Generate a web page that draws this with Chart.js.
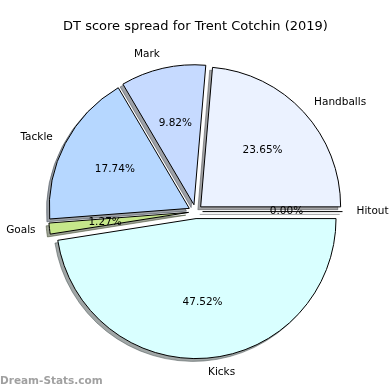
<!DOCTYPE html>
<html lang="en">
<head>
    <meta charset="UTF-8">
    <title>DT score spread for Trent Cotchin (2019)</title>
    <script src="https://cdn.jsdelivr.net/npm/chart.js"></script>
    <style>
        body { margin: 0; background: #fff; }
        #wrap { width: 390px; height: 390px; }
    </style>
</head>
<body>
    <div id="wrap"><canvas id="dtChart" width="390" height="390"></canvas></div>
    <script>
        // Slices in matplotlib order (counter-clockwise from 3 o'clock)
        const categories = ['Handballs', 'Mark', 'Tackle', 'Goals', 'Kicks', 'Hitout'];
        const percentages = [23.65, 9.82, 17.74, 1.27, 47.52, 0.00];
        const sliceColors = ['#ebf2ff', '#c6daff', '#b6d7ff', '#c6e78a', '#d9ffff', '#ebf2ff'];

        const EXPLODE = 7;      // px each wedge is pushed out
        const SHADOW = 2.8;     // px shadow shift (left / down)

        // Chart.js draws clockwise, so feed the slices reversed
        const labels = categories.slice().reverse();
        const values = percentages.slice().reverse();
        const colors = sliceColors.slice().reverse();

        // push every arc out along its middle angle, and draw zero wedges as a line
        const arcDraw = Chart.ArcElement.prototype.draw;
        Chart.ArcElement.prototype.draw = function (ctx) {
            const mid = (this.startAngle + this.endAngle) / 2;
            ctx.save();
            ctx.translate(Math.cos(mid) * EXPLODE, Math.sin(mid) * EXPLODE);
            if (this.circumference === 0) {
                ctx.beginPath();
                ctx.moveTo(this.x, this.y);
                ctx.lineTo(this.x + Math.cos(this.startAngle) * this.outerRadius,
                           this.y + Math.sin(this.startAngle) * this.outerRadius);
                ctx.lineWidth = this.options.borderWidth;
                ctx.strokeStyle = this.options.borderColor;
                ctx.stroke();
            } else {
                arcDraw.call(this, ctx);
            }
            ctx.restore();
        };

        function shadowOf(hex) {
            const r = parseInt(hex.slice(1, 3), 16) * 0.3;
            const g = parseInt(hex.slice(3, 5), 16) * 0.3;
            const b = parseInt(hex.slice(5, 7), 16) * 0.3;
            return `rgba(${r.toFixed(0)},${g.toFixed(0)},${b.toFixed(0)},0.5)`;
        }

        const pieExtras = {
            id: 'pieExtras',
            beforeDatasetsDraw(chart) {
                const ctx = chart.ctx;
                chart.getDatasetMeta(0).data.forEach((el, i) => {
                    const opts = el.options;
                    const sc = shadowOf(colors[i]);
                    el.options = Object.assign({}, opts, { backgroundColor: sc, borderColor: sc });
                    ctx.save();
                    ctx.translate(-SHADOW, SHADOW);
                    el.draw(ctx);
                    ctx.restore();
                    el.options = opts;
                });
            },
            afterDatasetsDraw(chart) {
                const ctx = chart.ctx;
                ctx.save();
                ctx.textBaseline = 'middle';
                chart.getDatasetMeta(0).data.forEach((el, i) => {
                    const mid = (el.startAngle + el.endAngle) / 2;
                    const cx = el.x + Math.cos(mid) * EXPLODE;
                    const cy = el.y + Math.sin(mid) * EXPLODE;
                    const r = el.outerRadius;
                    // percentage inside
                    ctx.font = '10.5px "DejaVu Sans"';
                    ctx.fillStyle = '#000';
                    ctx.textAlign = 'center';
                    ctx.fillText(values[i].toFixed(2) + '%',
                        cx + Math.cos(mid) * r * 0.6, cy + Math.sin(mid) * r * 0.6);
                    // category label outside
                    const lx = cx + Math.cos(mid) * r * 1.1;
                    const ly = cy + Math.sin(mid) * r * 1.1;
                    ctx.textAlign = Math.cos(mid) > 0 ? 'left' : 'right';
                    ctx.fillText(labels[i], lx, ly);
                });
                // watermark
                ctx.font = 'bold 10.5px "DejaVu Sans"';
                ctx.fillStyle = 'rgba(120,120,120,0.7)';
                ctx.textAlign = 'left';
                ctx.textBaseline = 'alphabetic';
                ctx.fillText('Dream-Stats.com', 0, 384);
                ctx.restore();
            }
        };

        new Chart(document.getElementById('dtChart'), {
            type: 'pie',
            data: {
                labels: labels,
                datasets: [{
                    data: values,
                    backgroundColor: colors,
                    borderColor: '#000',
                    borderWidth: 1,
                    hoverOffset: 0
                }]
            },
            options: {
                responsive: false,
                animation: false,
                rotation: 90,
                radius: 140,
                layout: { padding: { left: 1, right: 0, top: 0, bottom: 1.4 } },
                plugins: {
                    legend: { display: false },
                    tooltip: { enabled: false },
                    title: {
                        display: true,
                        text: 'DT score spread for Trent Cotchin (2019)',
                        color: '#000',
                        font: { family: 'DejaVu Sans', size: 13, weight: 'normal' },
                        padding: { top: 19, bottom: 0 }
                    }
                }
            },
            plugins: [pieExtras]
        });
    </script>
</body>
</html>
